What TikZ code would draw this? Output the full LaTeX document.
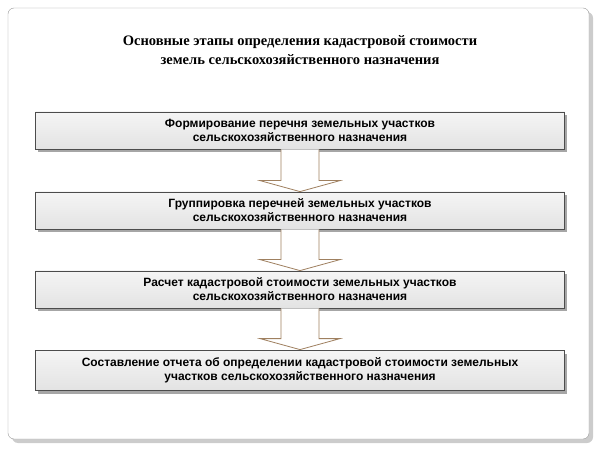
\documentclass[tikz,border=0pt]{standalone}
\usepackage{fontspec}
\setmainfont{Liberation Serif}
\setsansfont{Liberation Sans}
\begin{document}
\begin{tikzpicture}[x=1pt,y=-1pt,
  box/.style={draw=black!70,line width=0.8pt,top color=gray!8,bottom color=gray!22,
    minimum width=529pt,minimum height=37pt,align=center,
    font=\sffamily\bfseries\fontsize{12}{14}\selectfont,inner sep=2pt},
  shade/.style={fill=black!35},
  barrow/.style={draw=brown!50!gray,line width=0.8pt,fill=white}]
\useasboundingbox (0,0) rectangle (600,449);
\fill[black!20,rounded corners=6pt] (12,12) rectangle (593,443);
\draw[black!40,fill=white,rounded corners=6pt] (8,8) rectangle (589,439);
\node[font=\bfseries\fontsize{14.5}{19}\selectfont,align=center] (t) at (300,50)
 {Основные этапы определения кадастровой стоимости\\земель сельскохозяйственного назначения};
\fill[shade] (38,115) rectangle (567,152);
\fill[shade] (38,195) rectangle (567,232);
\fill[shade] (38,274) rectangle (567,311);
\fill[shade] (38,354) rectangle (567,394);
\node[box] (b1) at (300,130.5) {Формирование перечня земельных участков\\сельскохозяйственного назначения};
\node[box] (b2) at (300,210.5) {Группировка перечней земельных участков\\сельскохозяйственного назначения};
\node[box] (b3) at (300,289.5) {Расчет кадастровой стоимости земельных участков\\сельскохозяйственного назначения};
\node[box,minimum height=40pt] (b4) at (300,370) {Составление отчета об определении кадастровой стоимости земельных\\участков сельскохозяйственного назначения};
\foreach \a/\b in {b1/b2,b2/b3,b3/b4}{
  \path (\a.south) coordinate (s) (\b.north) coordinate (e);
  \draw[barrow] ([xshift=-19pt]s) -- ([xshift=-19pt,yshift=11pt]e) -- ([xshift=-40pt,yshift=11pt]e)
    -- (e) -- ([xshift=40pt,yshift=11pt]e) -- ([xshift=19pt,yshift=11pt]e) -- ([xshift=19pt]s);
}
\end{tikzpicture}
\end{document}
